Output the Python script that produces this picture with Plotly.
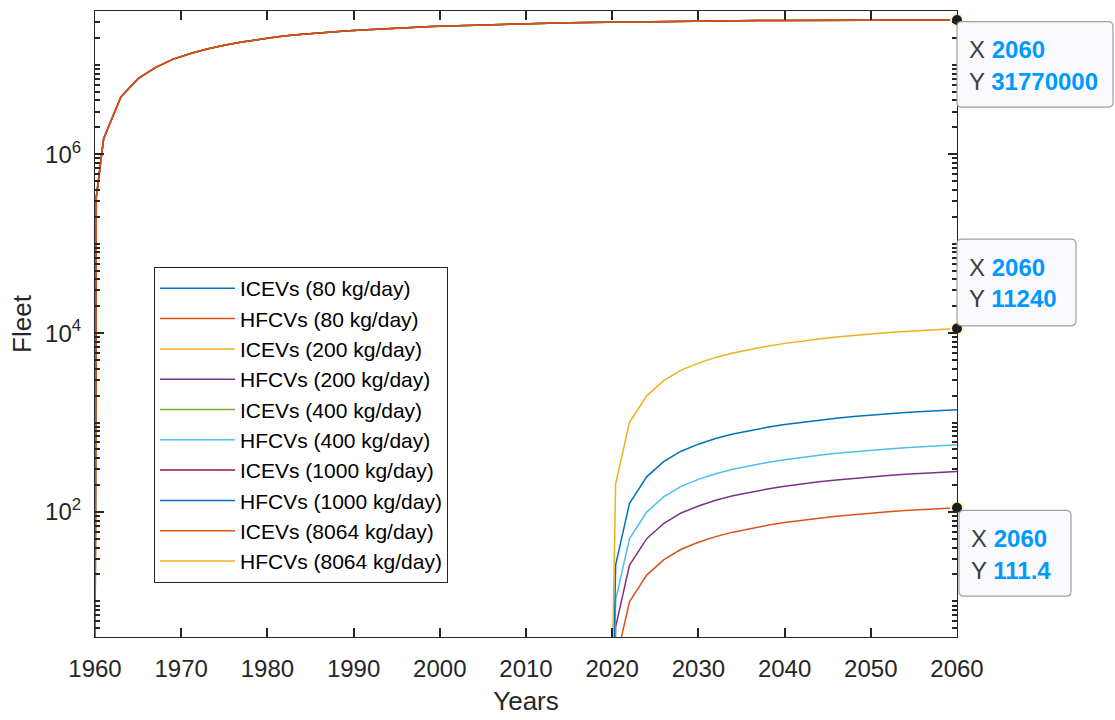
import plotly.graph_objects as go

# ---------------- data ----------------
icev_years = [1960, 1960.15, 1961, 1963, 1965, 1967, 1969, 1971, 1973, 1975, 1977, 1979,
              1981, 1983, 1985, 1987, 1989, 1991, 1993, 1995, 1997, 1999, 2001, 2003,
              2005, 2007, 2009, 2011, 2013, 2015, 2017, 2019, 2021, 2023, 2025, 2027,
              2029, 2031, 2033, 2035, 2037, 2039, 2041, 2043, 2045, 2047, 2049, 2051,
              2053, 2055, 2057, 2059, 2060]
icev_fleet = [1, 330000, 1490000, 4370000, 7000000, 9300000, 11500000, 13300000, 15000000,
              16600000, 18000000, 19300000, 20500000, 21500000, 22400000, 23200000, 23900000,
              24600000, 25200000, 25800000, 26300000, 26800000, 27200000, 27600000, 28000000,
              28400000, 28700000, 29000000, 29300000, 29600000, 29800000, 30000000, 30200000,
              30400000, 30600000, 30700000, 30900000, 31000000, 31100000, 31200000, 31300000,
              31400000, 31450000, 31500000, 31550000, 31600000, 31630000, 31660000, 31690000,
              31720000, 31740000, 31760000, 31770000]

hfcv_years = [2020, 2020.4, 2022, 2024, 2026, 2028, 2030, 2032, 2034, 2036, 2038, 2040,
              2042, 2044, 2046, 2048, 2050, 2052, 2054, 2056, 2058, 2060]
hfcv_80 = [0.017, 2.05, 9.9, 19.7, 29.3, 38.3, 45.8, 53.0, 59.5, 65.4, 70.9, 76.1,
           80.9, 85.3, 89.5, 93.4, 97.0, 100.4, 103.6, 106.5, 109.1, 111.4]
hfcv_200 = [0.043, 5.2, 25.3, 50.3, 74.8, 97.5, 116.7, 135.2, 151.6, 166.8, 180.7, 194.1,
            206.2, 217.6, 228.2, 238.0, 247.4, 256.0, 264.1, 271.7, 278.2, 284]
hfcv_400 = [0.085, 10.4, 50.1, 99.7, 148.3, 193.3, 231.4, 268.0, 300.5, 330.6, 358.1, 384.7,
            408.7, 431.3, 452.3, 471.8, 490.4, 507.4, 523.5, 538.5, 551.5, 563]
hfcv_1000 = [0.21, 25.7, 124, 247, 367, 478, 573, 663, 744, 818, 886, 952,
             1011, 1067, 1119, 1167, 1213, 1255, 1295, 1332, 1365, 1393]
hfcv_8064 = [1.7, 207, 1000, 1990, 2960, 3860, 4620, 5350, 6000, 6600, 7150, 7680,
             8160, 8610, 9030, 9420, 9790, 10130, 10450, 10750, 11010, 11240]

rates = ["80", "200", "400", "1000", "8064"]
hfcv_series = [hfcv_80, hfcv_200, hfcv_400, hfcv_1000, hfcv_8064]

x_ticks = [1960, 1970, 1980, 1990, 2000, 2010, 2020, 2030, 2040, 2050, 2060]
y_ticks = [1e2, 1e4, 1e6]
y_ticktext = ["10<sup>2</sup>", "10<sup>4</sup>", "10<sup>6</sup>"]

# ---------------- styles ----------------
icev_colors = ["#0072BD", "#EDB120", "#77AC30", "#A2142F", "#D95319"]
hfcv_colors = ["#D95319", "#7E2F8E", "#4DBEEE", "#0072BD", "#EDB120"]
AX = "#262626"
FONT = "Liberation Sans, Arial, Helvetica, sans-serif"

W_FIG, H_FIG = 1115, 720
L, T, R, B = 95, 10, 158, 77
PW, PH = W_FIG - L - R, H_FIG - T - B

fig = go.Figure()
for r, ci, ch, hv in zip(rates, icev_colors, hfcv_colors, hfcv_series):
    fig.add_trace(go.Scatter(x=icev_years, y=icev_fleet, mode="lines",
                             name=f"ICEVs ({r} kg/day)", line=dict(color=ci, width=1.5)))
    fig.add_trace(go.Scatter(x=hfcv_years, y=hv, mode="lines",
                             name=f"HFCVs ({r} kg/day)", line=dict(color=ch, width=1.5)))

# data tips
tips = [(icev_years[-1], icev_fleet[-1]), (hfcv_years[-1], hfcv_8064[-1]), (hfcv_years[-1], hfcv_80[-1])]
fig.add_trace(go.Scatter(x=[t[0] for t in tips], y=[t[1] for t in tips], mode="markers",
                         showlegend=False, cliponaxis=False,
                         marker=dict(size=12, color="#1a1a1a", line=dict(color="#F7F1C4", width=2))))

# minor ticks for log axis
minor_vals = []
for k in range(0, 8):
    for m in range(1, 10):
        v = m * 10 ** k
        if m == 1 and k % 2 == 0:
            continue
        if 4 <= v <= 4e7:
            minor_vals.append(v)


def px(xp):
    return (xp - L) / PW


def py(yp):
    return (T + PH - yp) / PH


def rrect(x0, y0, x1, y1, r):
    pts = [("M", [(x0 + r, y0)]), ("L", [(x1 - r, y0)]), ("Q", [(x1, y0), (x1, y0 + r)]),
           ("L", [(x1, y1 - r)]), ("Q", [(x1, y1), (x1 - r, y1)]), ("L", [(x0 + r, y1)]),
           ("Q", [(x0, y1), (x0, y1 - r)]), ("L", [(x0, y0 + r)]), ("Q", [(x0, y0), (x0 + r, y0)])]
    s = ""
    for cmd, ps in pts:
        s += cmd + " " + " ".join(f"{px(a):.5f},{py(b):.5f}" for a, b in ps) + " "
    return s + "Z"


def fmt(v):
    return str(int(v)) if float(v).is_integer() else f"{v:g}"


boxes = [(957, 20.7, 1113, 107.3), (957, 240.7, 1076, 328.3), (959, 515, 1071, 601.7)]
shapes, annos = [], []
for (bx0, by0, bx1, by1), (tx, ty) in zip(boxes, tips):
    shapes.append(dict(type="path", xref="paper", yref="paper", path=rrect(bx0, by0, bx1, by1, 5),
                       fillcolor="#F9F9FE", line=dict(color="#A0A0A0", width=1.2), layer="above"))
    for lab, val, dy in (("X", fmt(tx), 28.5), ("Y", fmt(ty), 60.5)):
        annos.append(dict(xref="paper", yref="paper", x=px(bx0 + 10), y=py(by0 + dy),
                          xanchor="left", yanchor="middle", showarrow=False,
                          text=f"{lab} <span style='color:#0099FF'><b>{val}</b></span>",
                          font=dict(family=FONT, size=24, color="#404040")))

fig.update_layout(
    width=W_FIG, height=H_FIG,
    margin=dict(l=L, r=R, t=T, b=B, pad=0),
    paper_bgcolor="white", plot_bgcolor="white",
    font=dict(family=FONT, color=AX),
    shapes=shapes, annotations=annos,
    legend=dict(x=px(154), y=py(269), xanchor="left", yanchor="top",
                bgcolor="white", bordercolor=AX, borderwidth=1,
                font=dict(family=FONT, size=21, color="#000000"),
                itemwidth=75, tracegroupgap=0),
    xaxis=dict(range=[1960, 2060], tickvals=x_ticks, ticks="inside", ticklen=9, tickwidth=1.5,
               tickcolor=AX, showline=True, linecolor=AX, linewidth=1.2, mirror="allticks",
               showgrid=False, zeroline=False, tickfont=dict(size=24, color=AX),
               ticklabelstandoff=10,
               title=dict(text="Years", font=dict(size=26, color=AX), standoff=10)),
    yaxis=dict(type="log", range=[0.602, 7.602], tickvals=y_ticks, ticktext=y_ticktext,
               ticks="inside", ticklen=9, tickwidth=1.5, tickcolor=AX,
               showline=True, linecolor=AX, linewidth=1.2, mirror="allticks",
               showgrid=False, zeroline=False, tickfont=dict(size=24, color=AX),
               ticklabelstandoff=8,
               minor=dict(tickmode="array", tickvals=minor_vals, ticks="inside", ticklen=5,
                          tickwidth=1.5, tickcolor=AX, showgrid=False),
               title=dict(text="Fleet", font=dict(size=26, color=AX), standoff=5)),
)

fig.write_html("out.html")
